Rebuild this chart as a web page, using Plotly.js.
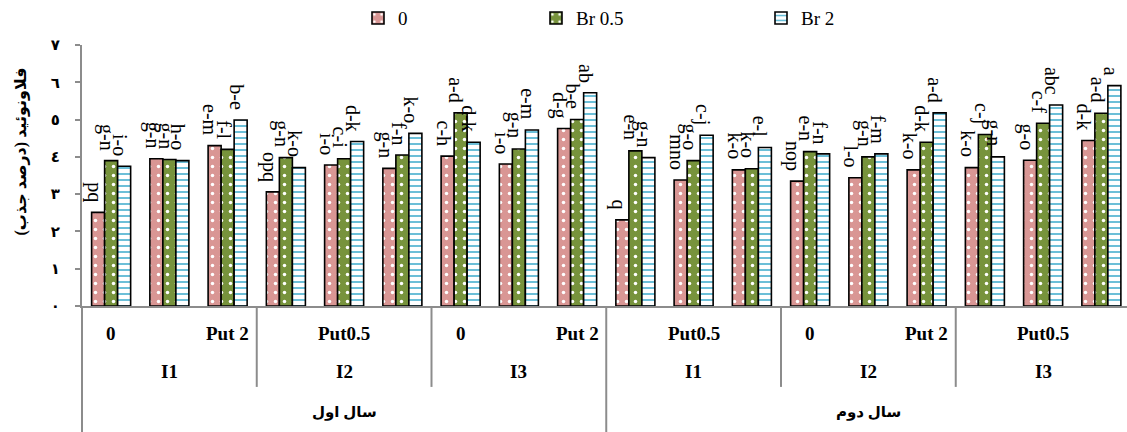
<!DOCTYPE html>
<html>
<head>
<meta charset="utf-8">
<script src="https://cdn.plot.ly/plotly-3.0.1.min.js"></script>
<style>html,body{margin:0;padding:0;background:#fff;}#chart{width:1127px;height:432px;}</style>
</head>
<body>
<div id="chart"></div>
<script>
// ---- data ----
const putLevels = ['0', 'Put0.5', 'Put 2'];
const irrigation = ['I1', 'I2', 'I3'];
const years = ['سال اول', 'سال دوم'];
const seriesNames = ['0', 'Br 0.5', 'Br 2'];

const valsControl = [2.51, 3.95, 4.30, 3.06, 3.78, 3.69, 4.02, 3.81, 4.76, 2.31, 3.38, 3.65, 3.35, 3.44, 3.65, 3.71, 3.91, 4.44];
const valsBr05    = [3.90, 3.93, 4.20, 3.98, 3.95, 4.05, 5.18, 4.21, 5.00, 4.16, 3.90, 3.68, 4.14, 4.00, 4.39, 4.60, 4.90, 5.17];
const valsBr2     = [3.75, 3.90, 4.99, 3.71, 4.41, 4.63, 4.39, 4.72, 5.72, 3.98, 4.58, 4.25, 4.08, 4.08, 5.18, 4.00, 5.39, 5.91];

const lettersControl = ['pq', 'g-n', 'e-m', 'opq', 'i-o', 'g-n', 'c-h', 'i-o', 'd-g', 'q', 'mno', 'k-o', 'nop', 'l-o', 'k-o', 'k-o', 'g-o', 'd-k'];
const lettersBr05    = ['g-n', 'g-n', 'f-l', 'g-n', 'c-i', 'f-n', 'a-d', 'g-n', 'b-e', 'e-n', 'g-o', 'k-o', 'e-n', 'g-n', 'd-k', 'c-j', 'c-f', 'a-d'];
const lettersBr2     = ['i-o', 'h-o', 'b-e', 'k-o', 'd-k', 'k-o', 'd-k', 'e-m', 'ab', 'g-n', 'c-j', 'e-l', 'f-n', 'f-m', 'a-d', 'g-n', 'abc', 'a'];

const yTickVals = [0, 1, 2, 3, 4, 5, 6, 7];
const yTickText = ['٠', '١', '٢', '٣', '٤', '٥', '٦', '٧'];
const yTitle = 'فلاونوئید (درصد جذب)';

// ---- build ----
const nGroups = valsControl.length;
const xIdx = Array.from({length: nGroups}, (_, i) => i);
const serif = 'Liberation Serif, Times New Roman, DejaVu Serif, serif';
const arabicFont = 'Liberation Serif, DejaVu Sans, Noto Sans, sans-serif';
const xr = [-0.5, 17.44];
const span = xr[1] - xr[0];
const pxX = k => (k - 0.5 - xr[0]) / span; // paper x of boundary before group k
const bargap = 0.33;
const barW = (1 - bargap) / 3;

const seriesVals = [valsControl, valsBr05, valsBr2];
const seriesLetters = [lettersControl, lettersBr05, lettersBr2];
const legendIds = ['legend', 'legend2', 'legend3'];
const markers = [
  {color: '#D99694', line: {color: '#000', width: 1.6},
    pattern: {shape: '.', fgcolor: '#ffffff', bgcolor: '#D99694', size: 9, solidity: 0.12}},
  {color: '#77933C', line: {color: '#000', width: 1.6},
    pattern: {shape: '.', fgcolor: '#ffffff', bgcolor: '#77933C', size: 9, solidity: 0.12}},
  {color: '#ffffff', line: {color: '#000', width: 1.6},
    pattern: {shape: '-', fgcolor: '#5BB8D4', bgcolor: '#ffffff', size: 6, solidity: 0.3}}
];

const traces = seriesVals.map((vals, s) => ({
  type: 'bar', x: xIdx, y: vals, name: seriesNames[s], legend: legendIds[s],
  marker: markers[s], hoverinfo: 'skip'
}));

const annotations = [];
// significance letters above each bar
seriesVals.forEach((vals, s) => {
  vals.forEach((v, i) => {
    annotations.push({xref: 'x', yref: 'y', x: i + (s - 1) * barW, y: v,
      xanchor: 'center', yanchor: 'bottom', xshift: -4, yshift: 8, textangle: 90,
      text: seriesLetters[s][i], showarrow: false,
      font: {family: serif, size: 20, color: '#000'}});
  });
});
// first level (every other label shown, like the original)
xIdx.forEach(i => {
  if (i % 2 === 0) {
    annotations.push({xref: 'x', yref: 'paper', x: i, y: 0, yshift: -27, yanchor: 'middle',
      text: '<b>' + putLevels[i % 3] + '</b>', showarrow: false,
      font: {family: serif, size: 19, color: '#000'}});
  }
});
// second level
for (let g = 0; g < nGroups / 3; g++) {
  annotations.push({xref: 'x', yref: 'paper', x: g * 3 + 1, y: 0, yshift: -65, yanchor: 'middle',
    text: '<b>' + irrigation[g % 3] + '</b>', showarrow: false,
    font: {family: serif, size: 19, color: '#000'}});
}
// third level
years.forEach((yr, k) => {
  annotations.push({xref: 'x', yref: 'paper', x: k * 9 + 4, y: 0, yshift: -106, yanchor: 'middle',
    text: '<b>' + yr + '</b>', showarrow: false,
    font: {family: arabicFont, size: 15, color: '#000'}});
});
// y title
annotations.push({xref: 'paper', yref: 'paper', x: 0, xshift: -62, y: 0.5, yshift: 24, xanchor: 'center', yanchor: 'middle',
  textangle: -90, text: '<b>' + yTitle + '</b>', showarrow: false,
  font: {family: arabicFont, size: 16, color: '#000'}});

const shapes = [];
const lineStyle = {color: '#8C8C8C', width: 2};
[3, 6, 12, 15].forEach(k => shapes.push({type: 'line', xref: 'paper', yref: 'paper',
  x0: pxX(k), x1: pxX(k), y0: 0, y1: -0.31, line: lineStyle}));
[0, 9].forEach(k => shapes.push({type: 'line', xref: 'paper', yref: 'paper',
  x0: pxX(k), x1: pxX(k), y0: 0, y1: -0.5, line: lineStyle}));

const legendBase = {orientation: 'h', xref: 'container', yref: 'container', y: 0.958, yanchor: 'middle',
  xanchor: 'left', bgcolor: 'rgba(0,0,0,0)', font: {family: serif, size: 19, color: '#000'},
  itemwidth: 30, tracegroupgap: 0};

const layout = {
  width: 1127, height: 432,
  margin: {l: 82, r: 0, t: 45, b: 126},
  paper_bgcolor: '#fff', plot_bgcolor: '#fff',
  barmode: 'group', bargap: bargap, bargroupgap: 0,
  showlegend: true,
  legend: Object.assign({}, legendBase, {x: 358 / 1127}),
  legend2: Object.assign({}, legendBase, {x: 536 / 1127}),
  legend3: Object.assign({}, legendBase, {x: 761 / 1127}),
  xaxis: {range: xr, showticklabels: false, ticks: '', showgrid: false, zeroline: false,
    showline: true, linecolor: '#8C8C8C', linewidth: 2, fixedrange: true},
  yaxis: {range: [0, 7], tickvals: yTickVals, ticktext: yTickText, showgrid: false, zeroline: false,
    showline: true, linecolor: '#8C8C8C', linewidth: 2, ticks: 'outside', ticklen: 5,
    tickcolor: '#8C8C8C', tickwidth: 2, ticklabelstandoff: 12,
    tickfont: {family: arabicFont, size: 15, color: '#000', weight: 'bold'}},
  annotations: annotations,
  shapes: shapes
};

Plotly.newPlot('chart', traces, layout, {displayModeBar: false, staticPlot: true});
</script>
</body>
</html>
